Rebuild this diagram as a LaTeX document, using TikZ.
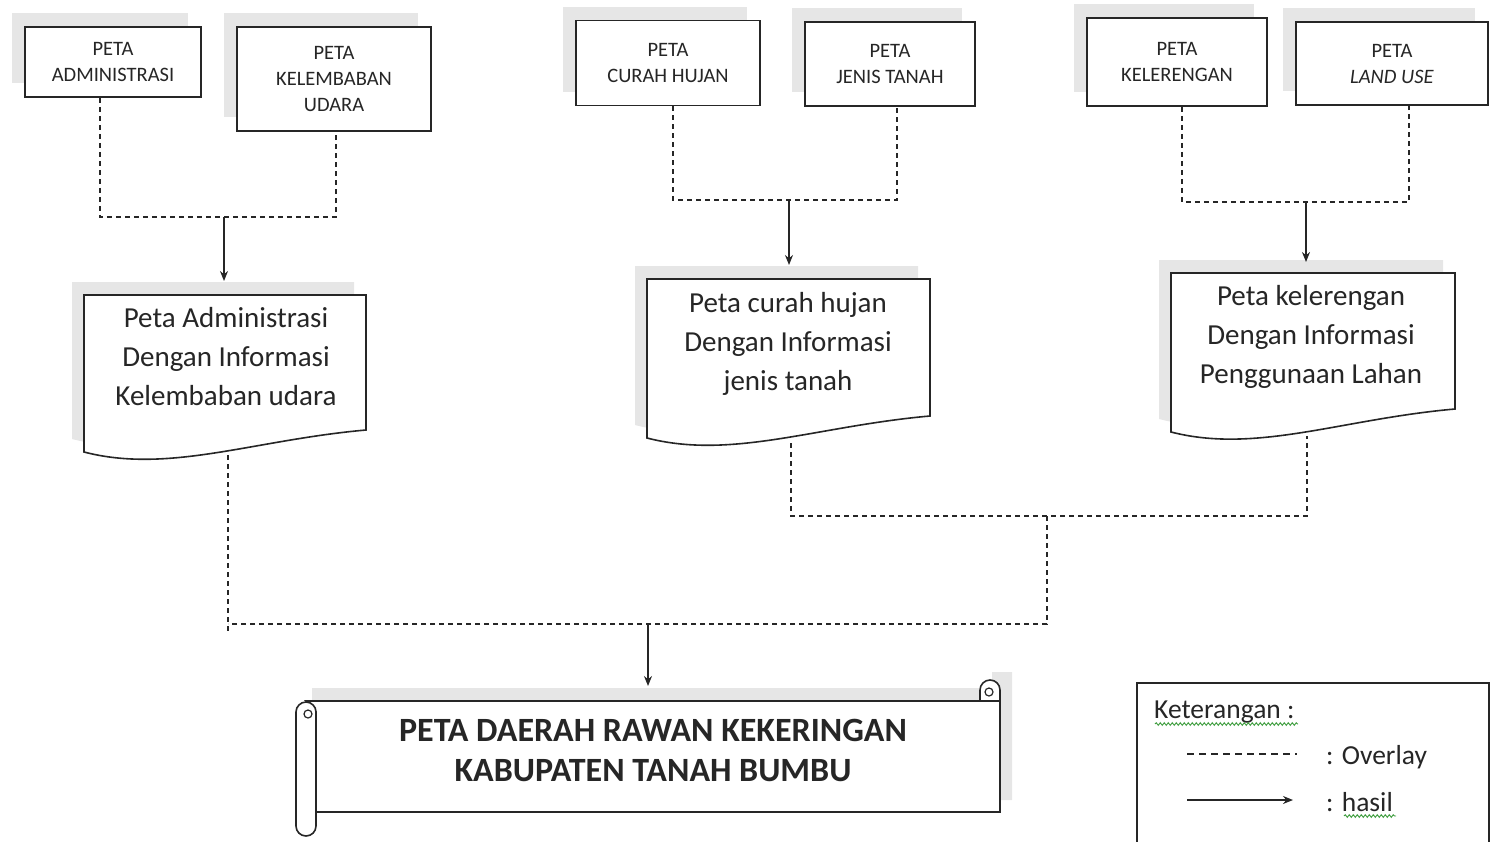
\documentclass[tikz,border=0pt]{standalone}
\usepackage{fontspec}
\setmainfont{Carlito}
\usetikzlibrary{arrows.meta,calc,shadows,decorations.pathmorphing}
\definecolor{ink}{HTML}{262626}
\definecolor{shadowgray}{HTML}{E6E6E6}
\definecolor{spell}{HTML}{3C9C3C}

% document (wavy bottom) outline: x1, top, x2, right bottom, left bottom, style
\newcommand\docsheet[6]{%
  \path[#6] (#1,#2) -- (#3,#2) -- (#3,#4)
    .. controls ({#1+0.6*(#3-#1)},{#4+10}) and ({#1+0.3*(#3-#1)},{#5+22}) .. (#1,#5) -- cycle;}

\begin{document}
\begin{tikzpicture}[x=1pt,y=-1pt,
  mapbox/.style={draw=ink, line width=1.8pt, fill=white, align=center, text=ink,
    font=\fontsize{20.5}{26}\selectfont, inner sep=0pt,
    general shadow={fill=shadowgray, shadow xshift=-13pt, shadow yshift=14pt}},
  docline/.style={draw=ink, line width=1.6pt, fill=white},
  doctext/.style={align=center, text=ink, font=\fontsize{29}{39}\selectfont},
  ovl/.style={draw=ink, line width=1.4pt, dash pattern=on 5pt off 4pt},
  res/.style={draw=ink, line width=1.4pt, -{Stealth[length=10pt,width=8pt]}},
  legtext/.style={text=ink, font=\fontsize{27.5}{30}\selectfont, inner sep=0pt},
  wavy/.style={draw=spell, line width=0.9pt, decorate,
    decoration={snake, amplitude=1.3pt, segment length=4pt}}]
\useasboundingbox (0,0) rectangle (1490,841);

% ---- source maps ----
\node[mapbox, minimum width=176pt, minimum height=70pt]  (admin)  at (113,62)   {PETA\\ADMINISTRASI};
\node[mapbox, minimum width=194pt, minimum height=104pt] (lembab) at (334,79)   {PETA\\KELEMBABAN\\UDARA};
\node[mapbox, minimum width=184pt, minimum height=85pt]  (hujan)  at (668,63) {PETA\\CURAH HUJAN};
\node[mapbox, minimum width=170pt, minimum height=84pt]  (tanah)  at (890,64)   {PETA\\JENIS TANAH};
\node[mapbox, minimum width=180pt, minimum height=88pt]  (lereng) at (1177,62)  {PETA\\KELERENGAN};
\node[mapbox, minimum width=192pt, minimum height=83pt]  (lahan)  at (1392,63.5){PETA\\\textit{LAND USE}};

% ---- intermediate overlay documents ----
\docsheet{72}{282}{354}{417}{439}{fill=shadowgray}
\docsheet{84}{295}{366}{430}{452}{docline}
\docsheet{635}{266}{918}{403}{425}{fill=shadowgray}
\docsheet{647}{279}{930}{416}{438}{docline}
\docsheet{1159}{260}{1443}{396}{419}{fill=shadowgray}
\docsheet{1171}{273}{1455}{409}{432}{docline}

\node[doctext] (docA) at (226,357) {Peta Administrasi\\Dengan Informasi\\Kelembaban udara};
\node[doctext] (docB) at (788,344) {Peta curah hujan\\Dengan Informasi\\jenis tanah};
\node[doctext] (docC) at (1311,337) {Peta kelerengan\\Dengan Informasi\\Penggunaan Lahan};

\coordinate (docAtop) at (224,281);
\coordinate (docBtop) at (789,265);
\coordinate (docCtop) at (1306,262);
\coordinate (docAbot) at (228,455);
\coordinate (docBbot) at (791,443);
\coordinate (docCbot) at (1307,436);

% ---- first overlays ----
\coordinate (joinA) at (224,217);
\coordinate (joinB) at (789,200);
\coordinate (joinC) at (1306,202);
\draw[ovl] ($(admin.south)+(-13,0)$) |- (joinA) -| ($(lembab.south)+(2,0)$);
\draw[ovl] ($(hujan.south)+(5,0)$) |- (joinB) -| ($(tanah.south)+(7,0)$);
\draw[ovl] ($(lereng.south)+(5,0)$) |- (joinC) -| ($(lahan.south)+(17,0)$);
\draw[res] (joinA) -- (docAtop);
\draw[res] (joinB) -- (docBtop);
\draw[res] (joinC) -- (docCtop);

% ---- second overlays ----
\coordinate (joinBC) at (1047,516);
\coordinate (endA) at (228,632);
\coordinate (joinAll) at (228,624);
\coordinate (joinMid) at (648,624);
\coordinate (scrollTop) at (648,686);
\draw[ovl] (docBbot) |- (joinBC) -| (docCbot);
\draw[ovl] (joinBC) |- (joinAll);
\draw[ovl] (docAbot) -- (endA);
\draw[res] (joinMid) -- (scrollTop);

% ---- final map (horizontal scroll) ----
\fill[shadowgray] (312,688) rectangle (1012,800) (992,672) rectangle (1012,688);
\path[docline] (306,701) -- (980,701) -- (980,690) arc[start angle=180, end angle=360, radius=10]
  -- (1000,812) -- (316,812) -- (316,712) -- cycle;
\draw[ink, line width=1.6pt] (980,701) -- (1000,701);
\draw[ink, line width=1.2pt] (989,692) circle[radius=4];
\path[docline] (296,712) arc[start angle=180, end angle=360, radius=10]
  -- (316,826) arc[start angle=0, end angle=180, radius=10] -- cycle;
\draw[ink, line width=1.2pt] (308,714) circle[radius=4];
\node[align=center, text=ink, font=\fontsize{34}{40}\selectfont\bfseries] (final) at (653,750)
  {PETA DAERAH RAWAN KEKERINGAN\\KABUPATEN TANAH BUMBU};

% ---- legend ----
\draw[ink, line width=1.6pt] (1137,845) -- (1137,683) -- (1489,683) -- (1489,845);
\node[legtext, anchor=base west] (legTitle) at (1154,718) {Keterangan :};
\draw[wavy] (1155,724) -- (1298,724);
\coordinate (legDashA) at (1187,754);
\coordinate (legDashB) at (1297,754);
\coordinate (legArrA) at (1187,800);
\coordinate (legArrB) at (1293,800);
\draw[ovl, dash pattern=on 7pt off 5pt] (legDashA) -- (legDashB);
\draw[res] (legArrA) -- (legArrB);
\node[legtext, anchor=base west] (legOverlay) at (1326,764) {: Overlay};
\node[legtext, anchor=base west] (legHasil) at (1326,811) {: hasil};
\draw[wavy] (1344,816) -- (1396,816);
\end{tikzpicture}
\end{document}
